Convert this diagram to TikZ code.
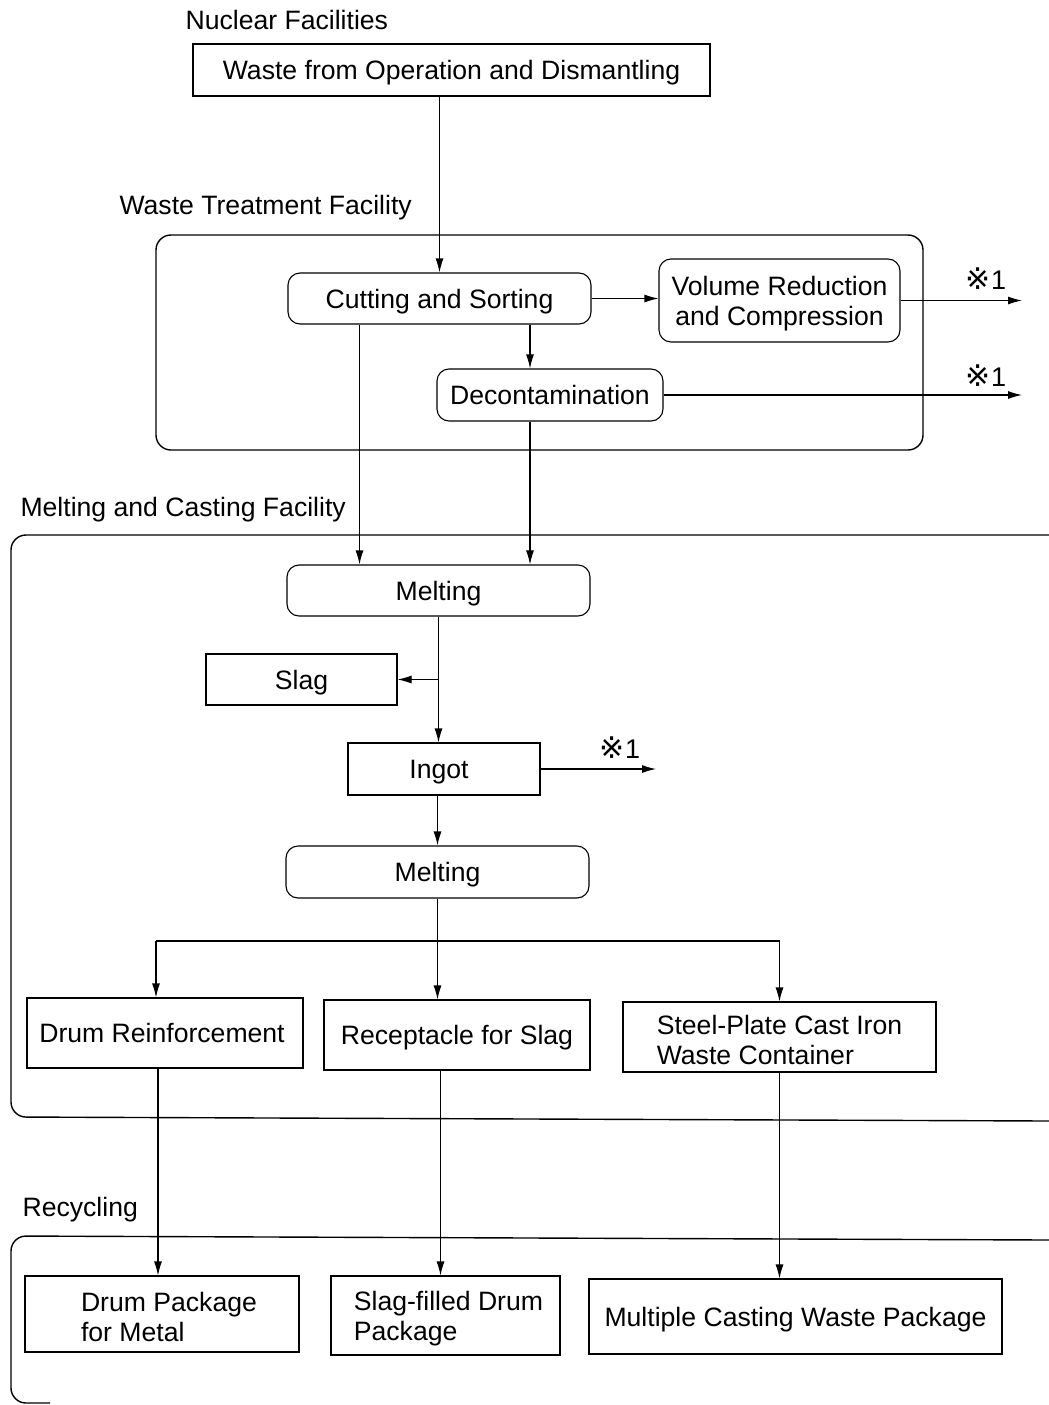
\documentclass[tikz,border=0pt]{standalone}
\usepackage{fontspec}
\setmainfont{Liberation Sans}
\newfontfamily\refmark{DejaVu Sans}
\usetikzlibrary{arrows.meta}
\newcommand{\upstrut}{\rule{0pt}{26pt}}
\begin{document}
\begin{tikzpicture}[x=1pt,y=-1pt,
  font=\fontsize{26.6}{30}\selectfont,
  every path/.style={line width=1.1pt},
  sq/.style={draw, inner sep=0pt, align=center, text height=19pt, text depth=0pt},
  rnd/.style={sq, rounded corners=12pt},
  sqm/.style={draw, inner sep=0pt},
  rndm/.style={sqm, rounded corners=12pt},
  arr/.style={-{Latex[length=14pt,width=8pt]}},
  lbl/.style={anchor=west, inner sep=0pt},
  refnote/.style={inner sep=0pt, font=\fontsize{27}{27}\selectfont}]
\useasboundingbox (0,0) rectangle (1049,1405);
% containers
\draw[line width=1.4pt, rounded corners=15pt] (156,235) rectangle (923,450);
\draw[line width=1.4pt, rounded corners=15pt] (1049,535) -- (11,535) -- (11,1117) -- (1049,1121);
\draw[line width=1.4pt, rounded corners=15pt] (1049,1240) -- (11,1236) -- (11,1403) -- (50,1403);
% labels
\node[lbl] (lnf) at (185,20) {Nuclear Facilities};
\node[lbl] (lwt) at (119,208) {Waste Treatment Facility};
\node[lbl] (lmc) at (20,510) {Melting and Casting Facility};
\node[lbl] (lrc) at (22,1210) {Recycling};
% nodes
\node[sq, minimum width=517pt, minimum height=52pt] (top) at (451.5,70) {Waste from Operation and Dismantling};
\node[rnd, minimum width=303pt, minimum height=51pt] (cut) at (439.5,298.5) {Cutting and Sorting};
\node[rndm, minimum width=241pt, minimum height=83pt, align=center] (vol) at (779.5,300.5) {\upstrut Volume Reduction\\ and Compression};
\node[rnd, minimum width=226pt, minimum height=52pt] (dec) at (550,395) {Decontamination};
\node[rnd, minimum width=303pt, minimum height=51pt] (melt1) at (438.5,590.5) {Melting};
\node[sq, minimum width=191pt, minimum height=51pt] (slag) at (301.5,679.5) {Slag};
\node[sq, minimum width=192pt, minimum height=52pt] (ingot) at (444,769) {Ingot\hspace*{10pt}};
\node[rnd, minimum width=303pt, minimum height=52pt] (melt2) at (437.5,872) {Melting};
\node[sq, minimum width=276pt, minimum height=70pt] (drum) at (165,1033) {Drum Reinforcement\hspace*{6pt}};
\node[sq, minimum width=266pt, minimum height=70pt] (recep) at (457,1035) {Receptacle for Slag};
\node[sqm, minimum width=313pt, minimum height=70pt, align=left] (steel) at (779.5,1037) {\upstrut Steel-Plate Cast Iron\\Waste Container};
\node[sqm, minimum width=274pt, minimum height=76pt, align=left] (dpm) at (162,1314) {\upstrut\hspace*{14pt}Drum Package\\\hspace*{14pt}for Metal};
\node[sqm, minimum width=229pt, minimum height=79pt, align=left] (sfd) at (445.5,1315.5) {\upstrut\hspace*{6pt}Slag-filled Drum\\\hspace*{6pt}Package};
\node[sq, minimum width=413pt, minimum height=75pt] (mcw) at (795.5,1316.5) {Multiple Casting Waste Package};
% free ends and marks
\coordinate (e1) at (1022,299);
\coordinate (e2) at (1022,398);
\coordinate (e3) at (656,768);
\coordinate (j) at (0,941);
\node[refnote] (m1) at (986,279) {{\refmark\fontsize{30}{30}\selectfont ※}1};
\node[refnote] (m2) at (986,376) {{\refmark\fontsize{30}{30}\selectfont ※}1};
\node[refnote] (m3) at (620,748) {{\refmark\fontsize{30}{30}\selectfont ※}1};
% connectors
\draw[arr] (cut.north |- top.south) -- (cut.north);
\draw[arr] (cut.east) -- (cut.east -| vol.west);
\draw[arr] (vol.east) -- (vol.east -| e1);
\draw[arr] ([xshift=-20pt]dec.north |- cut.south) -- ([xshift=-20pt]dec.north);
\draw[arr] (dec.east) -- (dec.east -| e2);
\draw[arr] ([xshift=-80pt]cut.south) -- ([xshift=-80pt]cut.south |- melt1.north);
\draw[arr] ([xshift=-20pt]dec.south) -- ([xshift=-20pt]dec.south |- melt1.north);
\draw[arr] (melt1.south) -- (melt1.south |- ingot.north);
\draw[arr] (melt1.south |- slag.east) -- (slag.east);
\draw[arr] (ingot.east) -- (ingot.east -| e3);
\draw[arr] (melt2.north |- ingot.south) -- (melt2.north);
\draw[arr] (melt2.south) -- (melt2.south |- recep.north);
\draw ([xshift=-9pt]drum.north |- j) -- (steel.north |- j);
\draw[arr] ([xshift=-9pt]drum.north |- j) -- ([xshift=-9pt]drum.north);
\draw[arr] (steel.north |- j) -- (steel.north);
\draw[arr] ([xshift=-4pt]dpm.north |- drum.south) -- ([xshift=-4pt]dpm.north);
\draw[arr] ([xshift=-5pt]sfd.north |- recep.south) -- ([xshift=-5pt]sfd.north);
\draw[arr] (steel.south) -- (steel.south |- mcw.north);
\end{tikzpicture}
\end{document}
